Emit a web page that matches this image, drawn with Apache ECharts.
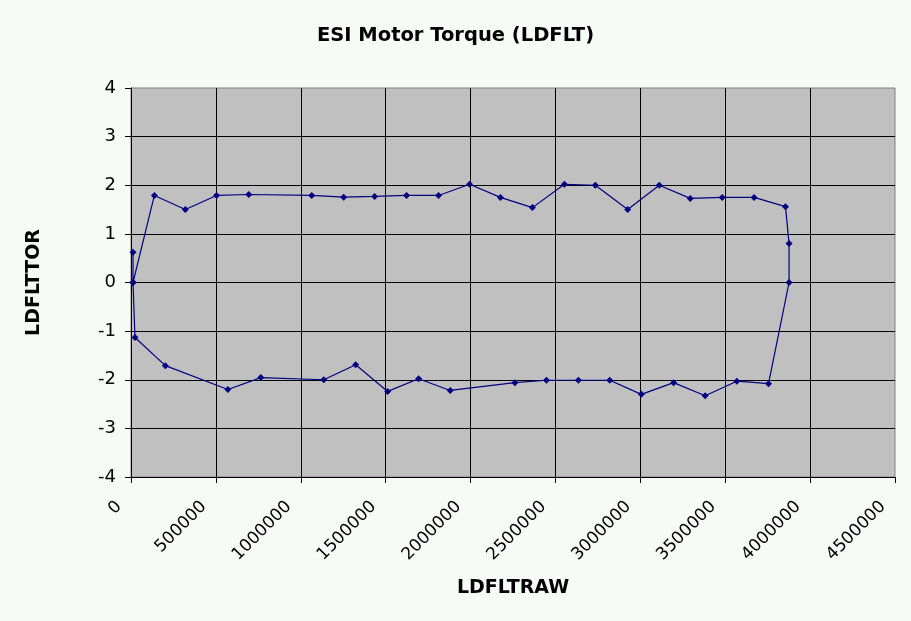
<!DOCTYPE html>
<html>
<head>
<meta charset="utf-8">
<script src="https://cdn.jsdelivr.net/npm/echarts@6/dist/echarts.min.js"></script>
<style>
html,body{margin:0;padding:0;background:#F6FBF6;}
#chart{width:911px;height:621px;}
</style>
</head>
<body>
<div id="chart"></div>
<script>
// LDFLTRAW values (x) and LDFLTTOR values (y), in drawing order
const rawValues = [11800, 11800, 137600, 320000, 504000, 694000, 1064700, 1252900, 1435000, 1623000, 1811600, 1994000, 2176000, 2364500, 2552800, 2735000, 2925600, 3111600, 3294000, 3482000, 3670000, 3855000, 3876000, 3876000, 3755000, 3568500, 3382000, 3196000, 3006000, 2820000, 2635000, 2447000, 2261000, 1880400, 1694000, 1511700, 1323500, 1135200, 764700, 570600, 202300, 23500, 11800];
const torValues = [0.62, 0, 1.79, 1.50, 1.79, 1.81, 1.79, 1.755, 1.77, 1.79, 1.79, 2.02, 1.75, 1.54, 2.02, 2.00, 1.50, 2.00, 1.73, 1.75, 1.75, 1.56, 0.80, 0, -2.08, -2.03, -2.33, -2.06, -2.30, -2.01, -2.01, -2.01, -2.06, -2.22, -1.98, -2.24, -1.69, -2.00, -1.955, -2.20, -1.71, -1.13, 0];
const xTicks = [0, 500000, 1000000, 1500000, 2000000, 2500000, 3000000, 3500000, 4000000, 4500000];
const yTicks = [-4, -3, -2, -1, 0, 1, 2, 3, 4];
const titleText = 'ESI Motor Torque (LDFLT)';
const xName = 'LDFLTRAW';
const yName = 'LDFLTTOR';

const points = rawValues.map((x, i) => [x, torValues[i]]);
const FONT = 'DejaVu Sans';

const chart = echarts.init(document.getElementById('chart'), null, {renderer: 'canvas'});
chart.setOption({
  backgroundColor: '#F6FBF6',
  animation: false,
  title: {
    text: titleText,
    left: 'center',
    top: 21,
    textStyle: {fontFamily: FONT, fontSize: 19.5, fontWeight: 'bold', color: '#000'}
  },
  grid: {
    left: 131, right: 16, top: 88, bottom: 144,
    show: true, backgroundColor: '#C0C0C0', borderColor: '#808080', borderWidth: 1,
    containLabel: false
  },
  xAxis: {
    type: 'value',
    min: xTicks[0], max: xTicks[xTicks.length - 1], interval: 500000,
    name: xName, nameLocation: 'middle', nameGap: 102,
    nameTextStyle: {fontFamily: FONT, fontSize: 19, fontWeight: 'bold', color: '#000'},
    axisLine: {show: true, onZero: false, lineStyle: {color: '#000', width: 1}},
    axisTick: {show: true, inside: false, length: 6, lineStyle: {color: '#000'}},
    axisLabel: {
      rotate: 45, margin: 15, padding: [0, 17, 0, 0],
      fontFamily: FONT, fontSize: 17, color: '#000',
      formatter: v => String(v)
    },
    splitLine: {show: true, showMinLine: false, showMaxLine: false, lineStyle: {color: '#000', width: 1}}
  },
  yAxis: {
    type: 'value',
    min: yTicks[0], max: yTicks[yTicks.length - 1], interval: 1,
    name: yName, nameLocation: 'middle', nameGap: 87, nameRotate: 90,
    nameTextStyle: {fontFamily: FONT, fontSize: 19, fontWeight: 'bold', color: '#000'},
    axisLine: {show: true, onZero: false, lineStyle: {color: '#000', width: 1}},
    axisTick: {show: true, inside: false, length: 6, lineStyle: {color: '#000'}},
    axisLabel: {margin: 15, fontFamily: FONT, fontSize: 18, color: '#000'},
    splitLine: {show: true, showMinLine: false, showMaxLine: false, lineStyle: {color: '#000', width: 1}}
  },
  series: [{
    type: 'line',
    data: points,
    symbol: 'diamond',
    symbolSize: 7,
    showAllSymbol: true,
    lineStyle: {color: '#000080', width: 1.2},
    itemStyle: {color: '#000080'},
    clip: false
  }]
});
</script>
</body>
</html>
